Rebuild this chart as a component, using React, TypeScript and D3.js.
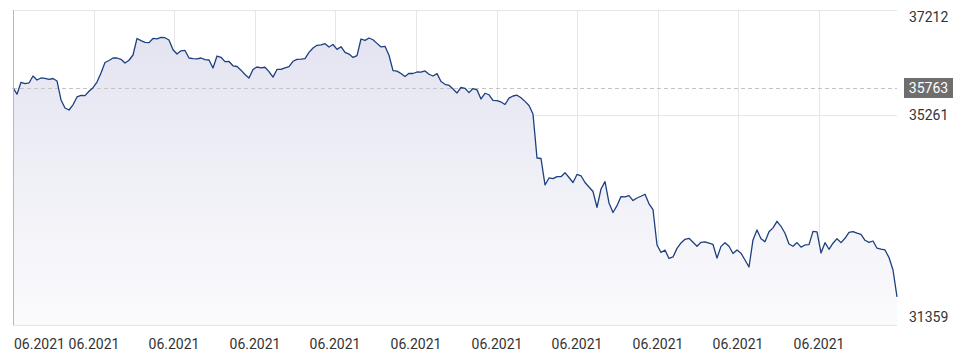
import React from "react";
import * as d3 from "d3";

const prices: number[] = [
  35769, 35646, 35869, 35843, 35856, 35986, 35912, 35949, 35943, 35925,
  35939, 35893, 35540, 35391, 35354, 35451, 35596, 35624, 35620, 35703,
  35769, 35874, 36042, 36237, 36274, 36320, 36320, 36296, 36227, 36278,
  36376, 36683, 36642, 36612, 36605, 36683, 36677, 36703, 36697, 36655,
  36473, 36395, 36454, 36460, 36320, 36307, 36302, 36320, 36291, 36283,
  36135, 36357, 36333, 36252, 36255, 36175, 36162, 36094, 36014, 35949,
  36107, 36153, 36138, 36148, 36066, 35964, 36107, 36109, 36138, 36159,
  36259, 36296, 36300, 36307, 36424, 36506, 36556, 36564, 36586, 36525,
  36571, 36480, 36530, 36423, 36393, 36330, 36363, 36673, 36647, 36692,
  36659, 36592, 36525, 36538, 36371, 36084, 36077, 36032, 35977, 36036,
  36032, 36060, 36057, 36079, 36018, 35986, 36029, 35882, 35832, 35813,
  35744, 35670, 35772, 35757, 35676, 35752, 35728, 35559, 35665, 35637,
  35531, 35529, 35503, 35456, 35575, 35614, 35629, 35581, 35514, 35438,
  35280, 34462, 34453, 33961, 34091, 34078, 34117, 34115, 34189, 34100,
  34007, 34156, 34132, 34007, 33924, 33840, 33545, 33886, 34022, 33626,
  33450, 33576, 33745, 33738, 33762, 33671, 33719, 33751, 33788, 33611,
  33505, 32846, 32707, 32751, 32595, 32623, 32783, 32883, 32952, 32970,
  32898, 32822, 32896, 32902, 32879, 32855, 32602, 32820, 32889, 32822,
  32688, 32753, 32693, 32567, 32437, 32939, 33125, 32963, 32907, 33093,
  33164, 33286, 33193, 33063, 32864, 32822, 32890, 32805, 32846, 32853,
  33099, 33089, 32697, 32889, 32766, 32879, 32963, 32889, 32970, 33078,
  33095, 33065, 33043, 32933, 32894, 32920, 32786, 32768, 32753, 32612,
  32381, 31880,
];

const yDomain: [number, number] = [31359, 37212];
const yTicks: number[] = [37212, 35261, 31359];
const lastPrice = 35763;

const xTickIndex: number[] = [0, 20.25, 40.25, 60.5, 80.5, 100.75, 121, 141, 161.25, 181.25, 201.5];
const xTickLabels: string[] = [
  "06.2021", "06.2021", "06.2021", "06.2021", "06.2021", "06.2021",
  "06.2021", "06.2021", "06.2021", "06.2021", "06.2021",
];

const W = 958;
const H = 362;
const left = 13;
const right = 897;
const top = 10;
const bottom = 325;
const FONT = "Roboto, 'Noto Sans', sans-serif";

export default function App() {
  const x = d3.scaleLinear().domain([0, prices.length - 1]).range([left, right]);
  const y = d3.scaleLinear().domain(yDomain).range([bottom, top]);

  const line = d3
    .line<number>()
    .x((_, i) => x(i))
    .y((d) => y(d));
  const area = d3
    .area<number>()
    .x((_, i) => x(i))
    .y0(bottom)
    .y1((d) => y(d));

  const labelY = (v: number) => {
    const yy = y(v);
    return Math.min(Math.max(yy, top + 7), bottom - 8);
  };

  return (
    <svg
      width={W}
      height={H}
      style={{ position: "absolute", left: 0, top: 0, background: "#fff" }}
      fontFamily={FONT}
    >
      <defs>
        <linearGradient id="fillGrad" gradientUnits="userSpaceOnUse" x1="0" y1={top} x2="0" y2={bottom}>
          <stop offset="0%" stopColor="#e2e2f0" />
          <stop offset="100%" stopColor="#fbfbfd" />
        </linearGradient>
      </defs>

      {/* vertical gridlines */}
      {xTickIndex.map((t, i) => (
        <line
          key={"vg" + i}
          x1={Math.round(x(t)) + 0.5}
          x2={Math.round(x(t)) + 0.5}
          y1={top}
          y2={bottom}
          stroke="#e6e6e6"
          strokeWidth={1}
        />
      ))}
      {/* horizontal gridlines */}
      {yTicks.map((v, i) => (
        <line
          key={"hg" + i}
          x1={left}
          x2={right}
          y1={Math.round(y(v)) + 0.5}
          y2={Math.round(y(v)) + 0.5}
          stroke="#e6e6e6"
          strokeWidth={1}
        />
      ))}

      <path d={area(prices) || ""} fill="url(#fillGrad)" />

      {/* last price dashed line */}
      <line
        x1={left}
        x2={right}
        y1={Math.round(y(lastPrice)) + 0.5}
        y2={Math.round(y(lastPrice)) + 0.5}
        stroke="#c4c4c4"
        strokeWidth={1}
        strokeDasharray="4,3"
      />

      <path d={line(prices) || ""} fill="none" stroke="#1d3f7e" strokeWidth={1.3} strokeLinejoin="round" />

      {/* left axis line */}
      <line x1={left + 0.5} x2={left + 0.5} y1={top} y2={bottom} stroke="#b8b8b8" strokeWidth={1} />

      {/* y labels */}
      {yTicks.map((v, i) => (
        <text
          key={"yl" + i}
          x={909}
          y={labelY(v)}
          dominantBaseline="central"
          fontSize={14}
          fill="#333"
        >
          {d3.format("d")(v)}
        </text>
      ))}

      {/* price tag */}
      <rect x={904} y={y(lastPrice) - 10} width={49} height={20} fill="#6e6e6e" />
      <text
        x={928.5}
        y={y(lastPrice)}
        textAnchor="middle"
        dominantBaseline="central"
        fontSize={14}
        fill="#fff"
      >
        {d3.format("d")(lastPrice)}
      </text>

      {/* x labels */}
      {xTickIndex.map((t, i) => (
        <text
          key={"xl" + i}
          x={i === 0 ? x(t) + 1 : x(t)}
          y={344}
          textAnchor={i === 0 ? "start" : "middle"}
          dominantBaseline="central"
          fontSize={14}
          fill="#333"
        >
          {xTickLabels[i]}
        </text>
      ))}
    </svg>
  );
}
